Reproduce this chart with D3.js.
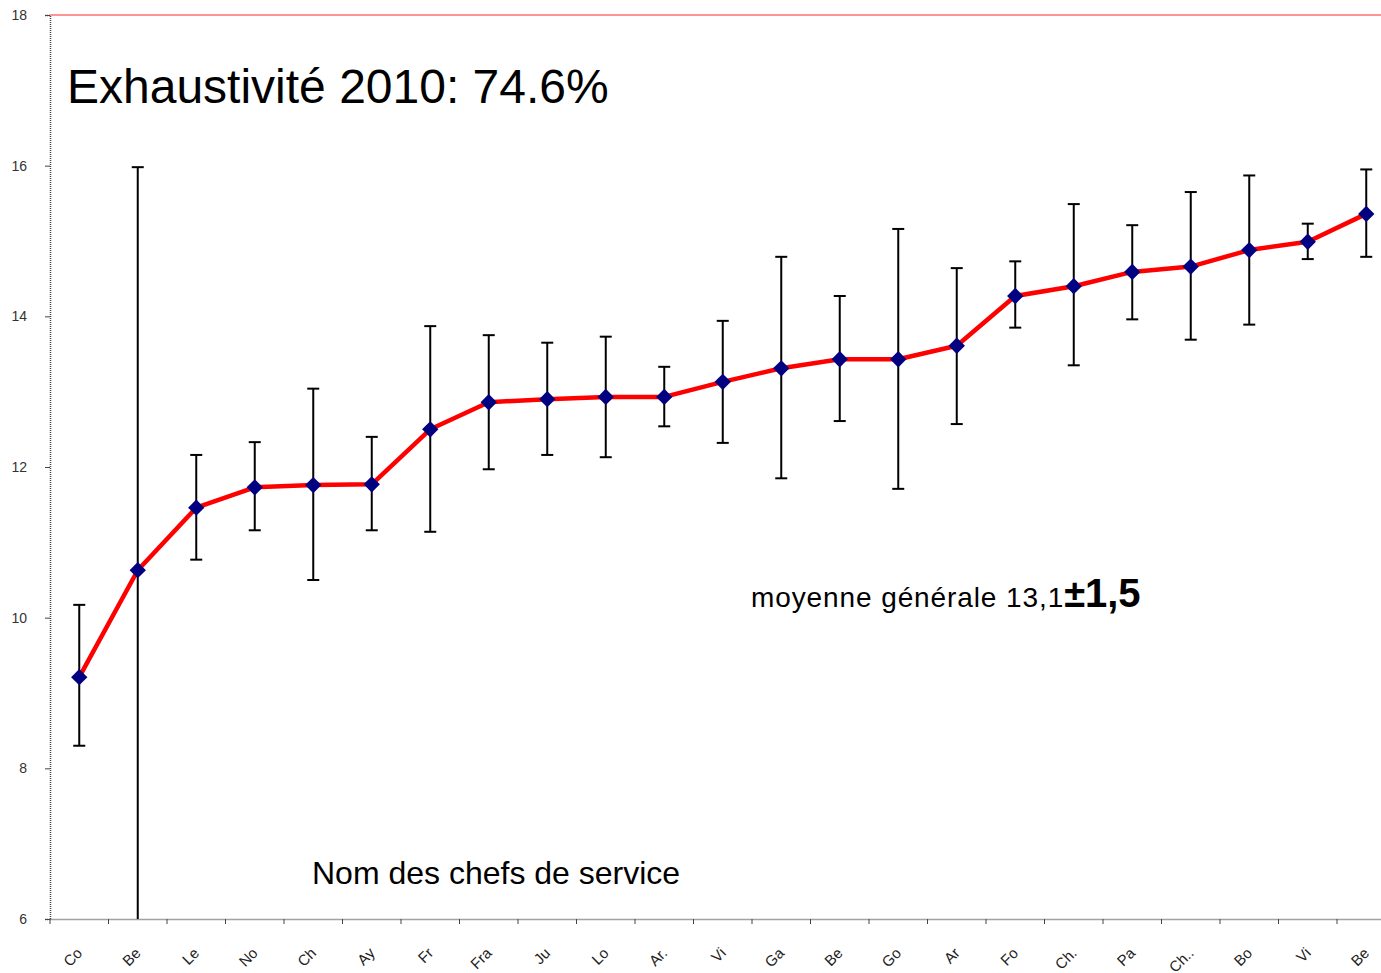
<!DOCTYPE html>
<meta charset="utf-8">
<style>
body { margin: 0; background: #fff; }
text { font-family: "Liberation Sans", Arial, sans-serif; }
.tick text { fill: #333; }
</style>
<svg width="1381" height="973"></svg>
<script src="https://d3js.org/d3.v7.min.js"></script>
<script>

var names = ["Co", "Be", "Le", "No", "Ch", "Ay", "Fr", "Fra", "Ju", "Lo", "Ar.", "Vi",
             "Ga", "Be", "Go", "Ar", "Fo", "Ch.", "Pa", "Ch..", "Bo", "Vi", "Be"];
var means = [9.21, 10.63, 11.46, 11.73, 11.76, 11.77, 12.50, 12.86, 12.90, 12.93, 12.93, 13.13,
             13.31, 13.43, 13.43, 13.61, 14.27, 14.40, 14.59, 14.66, 14.88, 14.99, 15.36];
var highs = [10.17, 15.98, 12.16, 12.33, 13.04, 12.40, 13.87, 13.75, 13.65, 13.73, 13.33, 13.94,
             14.79, 14.27, 15.16, 14.64, 14.73, 15.49, 15.21, 15.65, 15.87, 15.23, 15.95];
var lows  = [8.30, 5.00, 10.77, 11.16, 10.50, 11.16, 11.14, 11.97, 12.16, 12.13, 12.54, 12.32,
             11.85, 12.61, 11.71, 12.57, 13.85, 13.35, 13.96, 13.69, 13.89, 14.76, 14.79];
var yTicks = [6, 8, 10, 12, 14, 16, 18];

var svg = d3.select("svg");
var marginLeft = 50, marginTop = 15, axisY = 919;
var ids = names.map(function(d, i) { return i; });

var x = d3.scaleBand().domain(ids).range([marginLeft, marginLeft + 23 * 58.5]).padding(0);
var y = d3.scaleLinear().domain([6, 18]).range([axisY, marginTop]);
var cx = function(i) { return x(i) + x.bandwidth() / 2; };

svg.append("clipPath").attr("id", "clip")
  .append("rect").attr("x", marginLeft).attr("y", 0).attr("width", 1400).attr("height", axisY);

// top border at 18
svg.append("line")
    .attr("x1", marginLeft).attr("x2", 1381)
    .attr("y1", y(18)).attr("y2", y(18))
    .style("stroke", "#ff7070").style("stroke-width", 1.5);

// y axis
var yAxis = svg.append("g")
    .attr("transform", "translate(" + marginLeft + ",0)")
    .call(d3.axisLeft(y).tickValues(yTicks).tickSize(5).tickPadding(18));
yAxis.attr("font-size", 14);
yAxis.select(".domain").style("stroke", "#444").style("stroke-width", 1.5).style("stroke-dasharray", "1,1");
yAxis.selectAll(".tick line").style("stroke", "#444");

// x axis
var xAxis = svg.append("g")
    .attr("transform", "translate(0," + axisY + ")")
    .call(d3.axisBottom(x).tickSize(0).tickFormat(function(i) { return names[i]; }));
xAxis.attr("font-size", 15);
xAxis.select(".domain").style("stroke", "#444").style("stroke-width", 1.5).style("stroke-dasharray", "1,1");
xAxis.selectAll(".tick text")
    .style("text-anchor", "end")
    .style("fill", "#222")
    .attr("x", 0).attr("y", 0).attr("dy", null)
    .attr("transform", "translate(4,35) rotate(-45)");
// ticks at band edges
xAxis.selectAll(".edge")
  .data(ids)
  .enter().append("line")
    .attr("class", "edge")
    .attr("x1", function(i) { return x(i); }).attr("x2", function(i) { return x(i); })
    .attr("y1", 0).attr("y2", 5)
    .style("stroke", "#444");

// error bars
var eb = svg.append("g").attr("clip-path", "url(#clip)");
eb.selectAll(".bar")
  .data(ids)
  .enter().append("line")
    .attr("x1", cx).attr("x2", cx)
    .attr("y1", function(i) { return y(highs[i]); })
    .attr("y2", function(i) { return y(lows[i]); })
    .style("stroke", "#000").style("stroke-width", 2);
eb.selectAll(".capTop")
  .data(ids)
  .enter().append("line")
    .attr("x1", function(i) { return cx(i) - 6; }).attr("x2", function(i) { return cx(i) + 6; })
    .attr("y1", function(i) { return y(highs[i]); })
    .attr("y2", function(i) { return y(highs[i]); })
    .style("stroke", "#000").style("stroke-width", 2);
eb.selectAll(".capBot")
  .data(ids.filter(function(i) { return lows[i] >= 6; }))
  .enter().append("line")
    .attr("x1", function(i) { return cx(i) - 6; }).attr("x2", function(i) { return cx(i) + 6; })
    .attr("y1", function(i) { return y(lows[i]); })
    .attr("y2", function(i) { return y(lows[i]); })
    .style("stroke", "#000").style("stroke-width", 2);

// mean line
var line = d3.line().x(cx).y(function(i) { return y(means[i]); });
svg.append("path")
    .datum(ids)
    .attr("d", line)
    .style("fill", "none").style("stroke", "#ff0000").style("stroke-width", 4.5)
    .style("stroke-linejoin", "round");

svg.selectAll(".pt")
  .data(ids)
  .enter().append("path")
    .attr("class", "pt")
    .attr("d", d3.symbol().type(d3.symbolDiamond2).size(170))
    .attr("transform", function(i) { return "translate(" + cx(i) + "," + y(means[i]) + ")"; })
    .style("fill", "#000080");

// texts
svg.append("text")
    .attr("x", 67).attr("y", 103)
    .style("font-size", "48px")
    .text("Exhaustivité 2010: 74.6%");

svg.append("text")
    .attr("x", 312).attr("y", 884)
    .style("font-size", "32px")
    .text("Nom des chefs de service");

var m = svg.append("text")
    .attr("x", 751).attr("y", 607)
    .style("font-size", "28px").style("letter-spacing", "0.9px");
m.append("tspan").text("moyenne générale 13,1");
m.append("tspan").style("font-size", "38px").style("font-weight", "bold").style("letter-spacing", "0px").text("±");
m.append("tspan").style("font-size", "40px").style("font-weight", "bold").style("letter-spacing", "0px").text("1,5");

</script>
